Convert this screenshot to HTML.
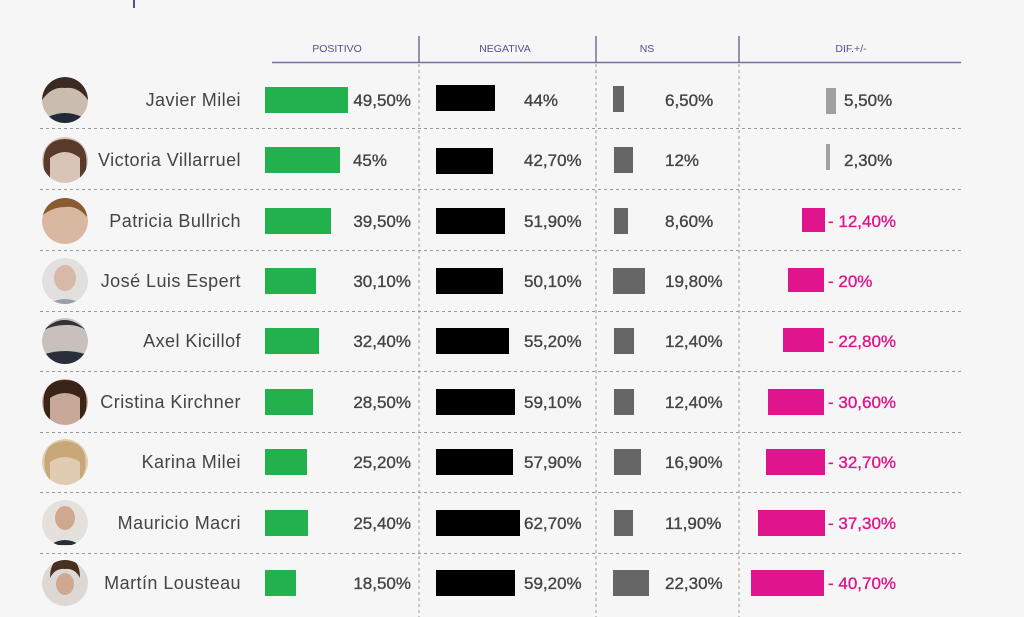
<!DOCTYPE html>
<html><head><meta charset="utf-8"><style>
html,body{margin:0;padding:0;background:#f6f6f6;}
svg{display:block;font-family:"Liberation Sans",sans-serif;}
.n{font-size:18px;fill:#444;text-anchor:end;letter-spacing:0.45px;}
.v{font-size:17px;fill:#444;stroke:#444;stroke-width:0.35px;letter-spacing:0px;}
.p{font-size:17px;fill:#e0148c;stroke:#e0148c;stroke-width:0.35px;letter-spacing:0px;}
.h{font-size:10.5px;fill:#55518a;text-anchor:middle;}
</style></head><body>
<svg width="1024" height="617" viewBox="0 0 1024 617">
<defs><clipPath id="c"><circle cx="0" cy="0" r="23"/></clipPath></defs>
<rect width="1024" height="617" fill="#f6f6f6"/>
<line x1="134" y1="0" x2="134" y2="8" stroke="#55518a" stroke-width="2"/>
<text class="h" x="337" y="52">POSITIVO</text>
<text class="h" x="505" y="52">NEGATIVA</text>
<text class="h" x="647" y="52">NS</text>
<text class="h" x="851" y="52">DIF.+/-</text>
<line x1="272" y1="62.5" x2="961" y2="62.5" stroke="#7470a0" stroke-width="1.5"/>
<g stroke="#7470a0" stroke-width="1.5"><line x1="419" y1="36" x2="419" y2="62"/><line x1="596" y1="36" x2="596" y2="62"/><line x1="739" y1="36" x2="739" y2="62"/></g>
<g stroke="#999" stroke-width="1" stroke-dasharray="3,3"><line x1="419" y1="64" x2="419" y2="617"/><line x1="596" y1="64" x2="596" y2="617"/><line x1="739" y1="64" x2="739" y2="617"/>
<line x1="40" y1="128.5" x2="964" y2="128.5"/><line x1="40" y1="189.5" x2="964" y2="189.5"/><line x1="40" y1="250.5" x2="964" y2="250.5"/><line x1="40" y1="311.5" x2="964" y2="311.5"/><line x1="40" y1="371.5" x2="964" y2="371.5"/><line x1="40" y1="432.5" x2="964" y2="432.5"/><line x1="40" y1="492.5" x2="964" y2="492.5"/><line x1="40" y1="553.5" x2="964" y2="553.5"/></g>
<g>
<g transform="translate(65,100)" clip-path="url(#c)"><circle r="23" fill="#cbbcb0"/><path d="M-23 0a23 23 0 0 1 46 0q-10-14-23-12q-13-2-23 12z" fill="#3a2a22"/><path d="M-17 17q17-8 34 0l-4 8h-26z" fill="#222a3a"/></g>
<g transform="translate(65,160)" clip-path="url(#c)"><circle r="23" fill="#d9c4b8"/><path d="M-21 10q-4-30 21-31q25 1 21 31l-6 18v-30q-15-12-30 0v30z" fill="#5a3a2a"/></g>
<g transform="translate(65,221)" clip-path="url(#c)"><circle r="23" fill="#d8b8a0"/><path d="M-22 -6q6-22 24-18q18 0 20 20q-10-12-22-10q-12 0-22 8z" fill="#8a5a30"/></g>
<g transform="translate(65,281)" clip-path="url(#c)"><circle r="23" fill="#e2e0de"/><path d="M-17 23q17-10 34 0z" fill="#9aa0a8"/><ellipse cx="0" cy="-3" rx="11" ry="13" fill="#d8b8a8"/></g>
<g transform="translate(65,341)" clip-path="url(#c)"><circle r="23" fill="#c8c0bc"/><path d="M-21 -11q20-20 42 0q-10-6-21-5q-11 0-21 5z" fill="#333"/><path d="M-20 13q20-6 40 0v12h-40z" fill="#2a2e3a"/></g>
<g transform="translate(65,402)" clip-path="url(#c)"><circle r="23" fill="#c8a898"/><path d="M-21 8q-4-30 21-30q25 0 21 30l-6 18v-30q-15-10-30 0v30z" fill="#3a2418"/></g>
<g transform="translate(65,462)" clip-path="url(#c)"><circle r="23" fill="#e0ccb0"/><path d="M-20 8q-4-28 20-29q24 1 20 29l-5 16v-24q-15-10-30 0v24z" fill="#c8a878"/></g>
<g transform="translate(65,523)" clip-path="url(#c)"><circle r="23" fill="#e4e0dc"/><ellipse cx="0" cy="-5" rx="10" ry="12" fill="#d0a890"/><path d="M-15 22q15-10 30 0z" fill="#2a2e3a"/></g>
<g transform="translate(65,583)" clip-path="url(#c)"><circle r="23" fill="#ddd8d4"/><path d="M-15 -5q0-20 15-20q15 0 15 20q-5-10-15-9q-10-1-15 9z" fill="#4a3020"/><ellipse cx="0" cy="1" rx="9" ry="11" fill="#d0a890"/></g>
</g>
<text class="n" x="241" y="106">Javier Milei</text>
<text class="n" x="241" y="166">Victoria Villarruel</text>
<text class="n" x="241" y="227">Patricia Bullrich</text>
<text class="n" x="241" y="287">José Luis Espert</text>
<text class="n" x="241" y="347">Axel Kicillof</text>
<text class="n" x="241" y="408">Cristina Kirchner</text>
<text class="n" x="241" y="468">Karina Milei</text>
<text class="n" x="241" y="529">Mauricio Macri</text>
<text class="n" x="241" y="589">Martín Lousteau</text>
<g fill="#22b14c">
<rect x="265" y="87" width="83" height="26"/><rect x="265" y="147" width="75" height="26"/><rect x="265" y="208" width="66" height="26"/><rect x="265" y="268" width="51" height="26"/><rect x="265" y="328" width="54" height="26"/><rect x="265" y="389" width="48" height="26"/><rect x="265" y="449" width="42" height="26"/><rect x="265" y="510" width="43" height="26"/><rect x="265" y="570" width="31" height="26"/></g>
<text class="v" x="411" y="106" text-anchor="end">49,50%</text><text class="v" x="387" y="166" text-anchor="end">45%</text><text class="v" x="411" y="227" text-anchor="end">39,50%</text><text class="v" x="411" y="287" text-anchor="end">30,10%</text><text class="v" x="411" y="347" text-anchor="end">32,40%</text><text class="v" x="411" y="408" text-anchor="end">28,50%</text><text class="v" x="411" y="468" text-anchor="end">25,20%</text><text class="v" x="411" y="529" text-anchor="end">25,40%</text><text class="v" x="411" y="589" text-anchor="end">18,50%</text>
<g fill="#000">
<rect x="436" y="85" width="59" height="26"/><rect x="436" y="148" width="57" height="26"/><rect x="436" y="208" width="69" height="26"/><rect x="436" y="268" width="67" height="26"/><rect x="436" y="328" width="73" height="26"/><rect x="436" y="389" width="79" height="26"/><rect x="436" y="449" width="77" height="26"/><rect x="436" y="510" width="84" height="26"/><rect x="436" y="570" width="79" height="26"/></g>
<text class="v" x="524" y="106">44%</text><text class="v" x="524" y="166">42,70%</text><text class="v" x="524" y="227">51,90%</text><text class="v" x="524" y="287">50,10%</text><text class="v" x="524" y="347">55,20%</text><text class="v" x="524" y="408">59,10%</text><text class="v" x="524" y="468">57,90%</text><text class="v" x="524" y="529">62,70%</text><text class="v" x="524" y="589">59,20%</text>
<g fill="#666">
<rect x="613" y="86" width="11" height="26"/><rect x="614" y="147" width="19" height="26"/><rect x="614" y="208" width="14" height="26"/><rect x="613" y="268" width="32" height="26"/><rect x="614" y="328" width="20" height="26"/><rect x="614" y="389" width="20" height="26"/><rect x="614" y="449" width="27" height="26"/><rect x="614" y="510" width="19" height="26"/><rect x="613" y="570" width="36" height="26"/></g>
<text class="v" x="665" y="106">6,50%</text><text class="v" x="665" y="166">12%</text><text class="v" x="665" y="227">8,60%</text><text class="v" x="665" y="287">19,80%</text><text class="v" x="665" y="347">12,40%</text><text class="v" x="665" y="408">12,40%</text><text class="v" x="665" y="468">16,90%</text><text class="v" x="665" y="529">11,90%</text><text class="v" x="665" y="589">22,30%</text>
<g fill="#a0a0a0"><rect x="826" y="88" width="10" height="26"/><rect x="826" y="144" width="4" height="26"/></g>
<text class="v" x="844" y="106">5,50%</text><text class="v" x="844" y="166">2,30%</text>
<g fill="#e0148c">
<rect x="802" y="208" width="23" height="24"/><rect x="788" y="268" width="36" height="24"/><rect x="783" y="328" width="41" height="24"/><rect x="768" y="389" width="56" height="26"/><rect x="766" y="449" width="59" height="26"/><rect x="758" y="510" width="67" height="26"/><rect x="751" y="570" width="73" height="26"/></g>
<text class="p" x="828" y="227">- 12,40%</text><text class="p" x="828" y="287">- 20%</text><text class="p" x="828" y="347">- 22,80%</text><text class="p" x="828" y="408">- 30,60%</text><text class="p" x="828" y="468">- 32,70%</text><text class="p" x="828" y="529">- 37,30%</text><text class="p" x="828" y="589">- 40,70%</text>
</svg>
</body></html>
